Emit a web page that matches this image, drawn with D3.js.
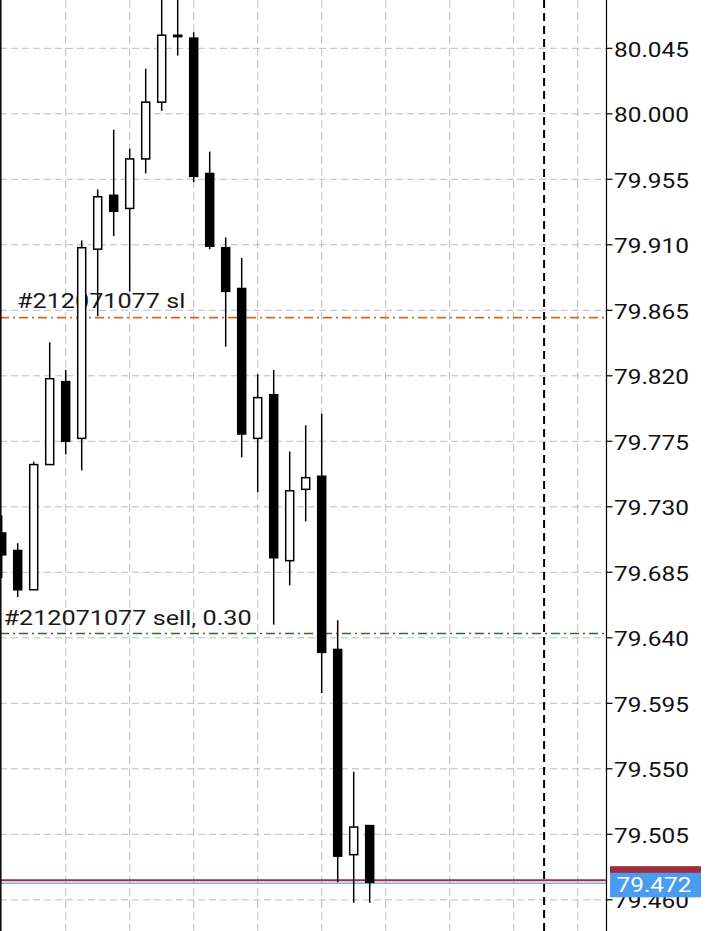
<!DOCTYPE html>
<html>
<head>
<meta charset="utf-8">
<script src="https://cdn.jsdelivr.net/npm/d3@7"></script>
<style>
  html, body { margin: 0; padding: 0; background: #ffffff; }
  svg { display: block; }
  text { font-family: Roboto, "Noto Sans", sans-serif; }
</style>
</head>
<body>
<svg id="chart" width="720" height="931"></svg>
<script>
// ---- data ----
const candleIndex = d3.range(24);
const opens  = [79.712, 79.700, 79.673, 79.759, 79.816, 79.777, 79.907, 79.944, 79.935, 79.969, 80.008, 80.054, 80.052, 79.959, 79.908, 79.880, 79.777, 79.807, 79.693, 79.742, 79.751, 79.632, 79.491, 79.511];
const highs  = [79.724, 79.705, 79.761, 79.843, 79.824, 79.913, 79.948, 79.989, 79.976, 80.031, 80.085, 80.090, 80.056, 79.974, 79.915, 79.901, 79.821, 79.824, 79.768, 79.786, 79.794, 79.652, 79.548, 79.511];
const lows   = [79.681, 79.668, 79.673, 79.759, 79.766, 79.755, 79.861, 79.916, 79.878, 79.959, 80.002, 80.040, 79.953, 79.907, 79.840, 79.764, 79.740, 79.649, 79.676, 79.720, 79.602, 79.472, 79.458, 79.458];
const closes = [79.697, 79.673, 79.759, 79.818, 79.775, 79.908, 79.943, 79.933, 79.969, 80.008, 80.054, 80.053, 79.957, 79.909, 79.878, 79.780, 79.805, 79.695, 79.741, 79.750, 79.630, 79.490, 79.510, 79.472];

const tickValues = [80.045, 80.000, 79.955, 79.910, 79.865, 79.820, 79.775, 79.730, 79.685, 79.640, 79.595, 79.550, 79.505, 79.460];
const tickLabels = ["80.045", "80.000", "79.955", "79.910", "79.865", "79.820", "79.775", "79.730", "79.685", "79.640", "79.595", "79.550", "79.505", "79.460"];
const timeGridIndex = [4, 8, 12, 16, 20, 24, 28, 32, 36];
const shiftIndex = 33.9;

const orderLevels = [79.860, 79.643];
const orderLabels = ["#212071077 sl", "#212071077 sell, 0.30"];
const orderColors = ["#d2691e", "#1f7a1f"];

const bidPrice = 79.472;
const askPrice = 79.4735;
const bidLabel = "79.472";

// ---- layout ----
const W = 720, H = 931;
const plotRight = 606.5;
const svg = d3.select("#chart");

const x = d3.scaleLinear().domain([0, 36]).range([1.7, 577.7]);
const y = d3.scaleLinear().domain([79.460, 80.045]).range([899.8, 48.3]);

const plot = svg.append("g");
svg.append("defs").append("clipPath").attr("id", "clip")
  .append("rect").attr("x", 0).attr("y", 0).attr("width", plotRight).attr("height", H);
plot.attr("clip-path", "url(#clip)");

// horizontal grid
plot.selectAll("line.hgrid").data(tickValues).enter().append("line")
  .attr("x1", 0).attr("x2", plotRight)
  .attr("y1", d => y(d)).attr("y2", d => y(d))
  .attr("stroke", "#bdbdbd").attr("stroke-width", 1)
  .attr("stroke-dasharray", "7,4");

// vertical grid
plot.selectAll("line.vgrid").data(timeGridIndex).enter().append("line")
  .attr("x1", d => x(d)).attr("x2", d => x(d))
  .attr("y1", 0).attr("y2", H)
  .attr("stroke", "#bdbdbd").attr("stroke-width", 1)
  .attr("stroke-dasharray", "8,4");

// chart shift line
plot.append("line")
  .attr("x1", x(shiftIndex)).attr("x2", x(shiftIndex))
  .attr("y1", 0).attr("y2", H)
  .attr("stroke", "#000").attr("stroke-width", 2)
  .attr("stroke-dasharray", "8,5");

// order lines
orderLevels.forEach((lv, i) => {
  plot.append("line")
    .attr("x1", 0).attr("x2", plotRight)
    .attr("y1", y(lv)).attr("y2", y(lv))
    .attr("stroke", orderColors[i]).attr("stroke-width", 1.6)
    .attr("stroke-dasharray", "9,4,2,4");
});
// order labels
const labelPos = [[17, -9.5], [3.5, -8.5]];
orderLevels.forEach((lv, i) => {
  plot.append("text")
    .attr("transform", `translate(${labelPos[i][0]},${y(lv) + labelPos[i][1]}) scale(1.2,1)`)
    .attr("font-size", 21).attr("fill", "#1a1a1a")
    .text(orderLabels[i]);
});

// bid / ask lines
plot.append("line").attr("x1", 0).attr("x2", plotRight)
  .attr("y1", y(askPrice)).attr("y2", y(askPrice))
  .attr("stroke", "#9c2f3f").attr("stroke-width", 2);
plot.append("line").attr("x1", 0).attr("x2", plotRight)
  .attr("y1", y(bidPrice) + 1).attr("y2", y(bidPrice) + 1)
  .attr("stroke", "#7fb0e3").attr("stroke-width", 1.5);

// left border
svg.append("line").attr("x1", 0.8).attr("x2", 0.8).attr("y1", 0).attr("y2", H)
  .attr("stroke", "#000").attr("stroke-width", 1.5);

// candles
const bodyW = 8;
const candles = plot.selectAll("g.candle").data(candleIndex).enter().append("g");
candles.append("line")
  .attr("x1", i => x(i)).attr("x2", i => x(i))
  .attr("y1", i => y(highs[i])).attr("y2", i => y(lows[i]))
  .attr("stroke", "#000").attr("stroke-width", 1.5);
candles.append("rect")
  .attr("x", i => x(i) - bodyW / 2)
  .attr("y", i => y(Math.max(opens[i], closes[i])))
  .attr("width", bodyW)
  .attr("height", i => Math.max(0.5, Math.abs(y(opens[i]) - y(closes[i]))))
  .attr("fill", i => closes[i] >= opens[i] ? "#ffffff" : "#000000")
  .attr("stroke", "#000").attr("stroke-width", 1.5);

// right axis
svg.append("line").attr("x1", plotRight).attr("x2", plotRight).attr("y1", 0).attr("y2", H)
  .attr("stroke", "#000").attr("stroke-width", 1.2);
const axisG = svg.append("g");
axisG.selectAll("line.tick").data(tickValues).enter().append("line")
  .attr("x1", plotRight).attr("x2", plotRight + 6)
  .attr("y1", d => y(d)).attr("y2", d => y(d))
  .attr("stroke", "#000").attr("stroke-width", 1.2);
axisG.selectAll("text.tick").data(tickValues).enter().append("text")
  .attr("transform", d => `translate(614,${y(d) + 8.3}) scale(1.22,1)`)
  .attr("font-size", 20).attr("fill", "#111")
  .text((d, i) => tickLabels[i]);

// ask / bid price labels
svg.append("rect")
  .attr("x", 610).attr("y", y(askPrice) - 14).attr("width", 91).attr("height", 24)
  .attr("fill", "#9c2f3f");
svg.append("rect")
  .attr("x", 610).attr("y", y(bidPrice) - 9.5).attr("width", 91).attr("height", 24.5)
  .attr("fill", "#4a9cf0");
svg.append("text")
  .attr("transform", `translate(616.5,${y(bidPrice) + 10}) scale(1.22,1)`)
  .attr("font-size", 20).attr("fill", "#ffffff")
  .text(bidLabel);
</script>
</body>
</html>
